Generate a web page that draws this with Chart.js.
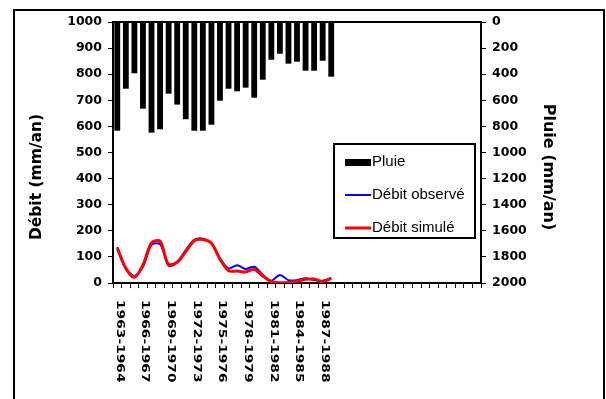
<!DOCTYPE html>
<html>
<head>
<meta charset="utf-8">
<script src="https://cdn.jsdelivr.net/npm/chart.js@4/dist/chart.umd.min.js"></script>
<style>
  body { margin: 0; background: #fff; overflow: hidden; }
  #cadre { position: absolute; left: 13px; top: 9px; width: 592px; height: 500px; border: 2px solid #000; box-sizing: border-box; pointer-events: none; }
  canvas { position: absolute; left: 0; top: 0; }
</style>
</head>
<body>
<canvas id="graphe" width="606" height="399"></canvas>
<div id="cadre"></div>
<script>
// années hydrologiques (les données s'arrêtent en 1988-1989, l'axe continue)
var annees = ['1963-1964', '1964-1965', '1965-1966', '1966-1967', '1967-1968', '1968-1969',
  '1969-1970', '1970-1971', '1971-1972', '1972-1973', '1973-1974', '1974-1975', '1975-1976',
  '1976-1977', '1977-1978', '1978-1979', '1979-1980', '1980-1981', '1981-1982', '1982-1983',
  '1983-1984', '1984-1985', '1985-1986', '1986-1987', '1987-1988', '1988-1989'];
var nbCategories = 43;

// pluie annuelle (mm/an), axe de droite inversé
var pluie = [833, 511, 393, 664, 848, 822, 549, 633, 745, 833, 833, 787, 603,
  511, 531, 503, 580, 442, 289, 243, 319, 304, 373, 373, 297, 419];
// débit observé (mm/an)
var debitObserve = [137, 56, 27, 62, 146, 148, 73, 82, 126, 165, 170, 152, 95,
  56, 68, 54, 62, 31, 9, 31, 11, 11, 18, 11, 9, 19];
// débit simulé (mm/an)
var debitSimule = [133, 56, 22, 69, 154, 160, 68, 79, 120, 162, 167, 152, 91,
  47, 46, 42, 52, 27, 5, 1, 2, 6, 14, 15, 5, 18];

var labels = annees.slice();
while (labels.length < nbCategories) labels.push('');

var policeAxe = 'DejaVu Sans';

// dessin des libellés verticaux, des titres d'axes, du cadre haut et de la légende
var decor = {
  id: 'decor',
  afterDraw: function(chart) {
    var ctx = chart.ctx;
    var zone = chart.chartArea;
    var x = chart.scales.x;

    // cadre haut de la zone de tracé
    ctx.save();
    ctx.strokeStyle = '#000';
    ctx.lineWidth = 2;
    ctx.beginPath();
    ctx.moveTo(zone.left, zone.top);
    ctx.lineTo(zone.right, zone.top);
    ctx.stroke();
    ctx.restore();

    // libellés des années, un sur trois
    ctx.save();
    ctx.fillStyle = '#000';
    ctx.font = 'bold 10px ' + policeAxe;
    ctx.textAlign = 'left';
    ctx.textBaseline = 'middle';
    for (var i = 0; i < annees.length - 1; i += 3) {
      ctx.save();
      ctx.translate(x.getPixelForValue(i) + 2, zone.bottom + 17);
      ctx.rotate(Math.PI / 2);
      ctx.scale(1.38, 1);
      ctx.fillText(annees[i], 0, 0);
      ctx.restore();
    }
    ctx.restore();

    // titres des axes
    ctx.save();
    ctx.fillStyle = '#000';
    ctx.font = 'bold 15.5px ' + policeAxe;
    ctx.textAlign = 'center';
    ctx.textBaseline = 'middle';
    ctx.translate(zone.left - 76, zone.top + 155);
    ctx.rotate(-Math.PI / 2);
    ctx.fillText('Débit (mm/an)', 0, 0);
    ctx.restore();

    ctx.save();
    ctx.fillStyle = '#000';
    ctx.font = 'bold 16px ' + policeAxe;
    ctx.textAlign = 'center';
    ctx.textBaseline = 'middle';
    ctx.translate(zone.right + 67, zone.top + 145);
    ctx.rotate(Math.PI / 2);
    ctx.fillText('Pluie (mm/an)', 0, 0);
    ctx.restore();

    // légende encadrée
    var gx = zone.right - 147, gy = zone.top + 122;
    ctx.save();
    ctx.fillStyle = '#fff';
    ctx.fillRect(gx, gy, 141, 94);
    ctx.strokeStyle = '#000';
    ctx.lineWidth = 2;
    ctx.strokeRect(gx, gy, 141, 94);
    ctx.font = '15px "Liberation Sans", Arial, sans-serif';
    ctx.textBaseline = 'middle';
    ctx.textAlign = 'left';
    chart.data.datasets.forEach(function(ds, k) {
      var yy = gy + 18 + k * 33;
      if (ds.type === 'bar') {
        ctx.fillStyle = ds.backgroundColor;
        ctx.fillRect(gx + 11, yy - 3, 26, 7);
      } else {
        ctx.strokeStyle = ds.borderColor;
        ctx.lineWidth = ds.borderWidth;
        ctx.beginPath();
        ctx.moveTo(gx + 11, yy);
        ctx.lineTo(gx + 37, yy);
        ctx.stroke();
      }
      ctx.fillStyle = '#000';
      ctx.fillText(ds.label, gx + 38, yy);
    });
    ctx.restore();
  }
};

function texteBrut(v) { return String(v); }

var ctx = document.getElementById('graphe').getContext('2d');
var graphe = new Chart(ctx, {
  type: 'bar',
  data: {
    labels: labels,
    datasets: [{
      type: 'bar',
      label: 'Pluie',
      data: pluie,
      yAxisID: 'y2',
      backgroundColor: '#000',
      barPercentage: 0.68,
      categoryPercentage: 1,
      order: 3
    }, {
      type: 'line',
      label: 'Débit observé',
      data: debitObserve,
      yAxisID: 'y',
      borderColor: '#0000ff',
      borderWidth: 2,
      pointRadius: 0,
      tension: 0.3,
      fill: false,
      order: 2
    }, {
      type: 'line',
      label: 'Débit simulé',
      data: debitSimule,
      yAxisID: 'y',
      borderColor: '#ff0000',
      borderWidth: 3,
      pointRadius: 0,
      tension: 0.3,
      fill: false,
      order: 1
    }]
  },
  options: {
    responsive: false,
    animation: false,
    layout: { padding: { top: 22, left: 0, right: 0, bottom: 0 } },
    plugins: {
      legend: { display: false },
      tooltip: { enabled: false }
    },
    scales: {
      x: {
        offset: true,
        grid: { offset: true, drawOnChartArea: false, tickLength: 5, color: '#000', lineWidth: 1 },
        border: { color: '#000', width: 2 },
        ticks: { display: false, autoSkip: false },
        afterFit: function(s) { s.height = 116; }
      },
      y: {
        position: 'left',
        min: 0,
        max: 1000,
        ticks: { stepSize: 100, color: '#000', padding: 6, callback: texteBrut, font: { family: policeAxe, weight: 'bold', size: 12.5 } },
        grid: { drawOnChartArea: false, tickLength: 5, color: '#000' },
        border: { color: '#000', width: 2 },
        afterFit: function(s) { s.width = 113; }
      },
      y2: {
        position: 'right',
        min: 0,
        max: 2000,
        reverse: true,
        ticks: { stepSize: 200, color: '#000', padding: 6, callback: texteBrut, font: { family: policeAxe, weight: 'bold', size: 12.5 } },
        grid: { drawOnChartArea: false, tickLength: 5, color: '#000' },
        border: { color: '#000', width: 2 },
        afterFit: function(s) { s.width = 125; }
      }
    }
  },
  plugins: [decor]
});
</script>
</body>
</html>
